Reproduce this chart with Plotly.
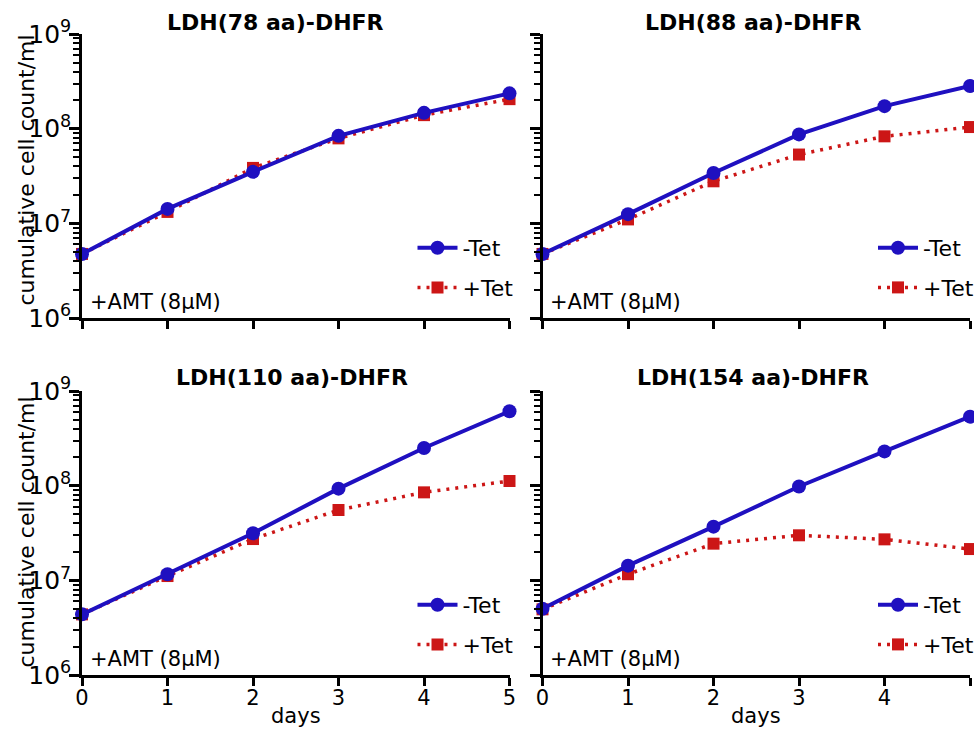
import plotly.graph_objects as go

days = [0, 1, 2, 3, 4, 5]
panel_titles = ["LDH(78 aa)-DHFR", "LDH(88 aa)-DHFR", "LDH(110 aa)-DHFR", "LDH(154 aa)-DHFR"]
series_names = ["-Tet", "+Tet"]
condition_label = "+AMT (8μM)"
x_title = "days"
y_title = "cumulative cell count/ml"

minus_tet_78 = [4.75e6, 1.42e7, 3.5e7, 8.4e7, 1.47e8, 2.36e8]
plus_tet_78 = [4.75e6, 1.32e7, 3.85e7, 7.9e7, 1.39e8, 2.05e8]
minus_tet_88 = [4.75e6, 1.25e7, 3.4e7, 8.7e7, 1.73e8, 2.82e8]
plus_tet_88 = [4.75e6, 1.1e7, 2.78e7, 5.33e7, 8.3e7, 1.04e8]
minus_tet_110 = [4.37e6, 1.16e7, 3.14e7, 9.3e7, 2.5e8, 6.1e8]
plus_tet_110 = [4.37e6, 1.11e7, 2.73e7, 5.53e7, 8.5e7, 1.12e8]
minus_tet_154 = [5.0e6, 1.43e7, 3.69e7, 9.8e7, 2.3e8, 5.36e8]
plus_tet_154 = [4.94e6, 1.16e7, 2.44e7, 2.99e7, 2.71e7, 2.14e7]

minus_series = [minus_tet_78, minus_tet_88, minus_tet_110, minus_tet_154]
plus_series = [plus_tet_78, plus_tet_88, plus_tet_110, plus_tet_154]

BLUE = "#1f10c0"
RED = "#cc1616"
FONT = "DejaVu Sans"
W, H = 974, 731


def px_x(p):
    return p / W


def px_y(p):
    return 1 - p / H


# panel geometry in page pixels: (x0, x1, ytop, ybottom)
panels = [
    (82, 509.5, 34, 318),
    (542.5, 970, 34, 318),
    (82, 509.5, 391, 675),
    (542.5, 970, 391, 675),
]
title_x_px = [275, 753, 292, 753]

fig = go.Figure()
layout = dict(
    width=W, height=H, margin=dict(l=0, r=0, t=0, b=0, autoexpand=False),
    paper_bgcolor="white", plot_bgcolor="white",
    font=dict(family=FONT, size=21, color="black"),
    showlegend=True,
)
annotations = []

for i in range(4):
    n = i + 1
    sx = "" if n == 1 else str(n)
    xa, ya = "x" + sx, "y" + sx
    lg = "legend" + sx
    x0, x1, yt, yb = panels[i]
    dom_x = [px_x(x0), px_x(x1)]
    dom_y = [px_y(yb), px_y(yt)]
    left = i in (0, 2)
    bottom = i in (2, 3)

    fig.add_trace(go.Scatter(
        x=days, y=plus_series[i], name=series_names[1], mode="lines+markers",
        xaxis=xa, yaxis=ya, legend=lg, legendrank=2, legendgroup="p" + str(n),
        line=dict(color=RED, width=3.5, dash="3px,6px"),
        marker=dict(symbol="square", size=12, color=RED),
        cliponaxis=False,
    ))
    fig.add_trace(go.Scatter(
        x=days, y=minus_series[i], name=series_names[0], mode="lines+markers",
        xaxis=xa, yaxis=ya, legend=lg, legendrank=1, legendgroup="m" + str(n),
        line=dict(color=BLUE, width=4),
        marker=dict(symbol="circle", size=14, color=BLUE),
        cliponaxis=False,
    ))

    layout["xaxis" + sx] = dict(
        domain=dom_x, anchor=ya, range=[0, 5], tick0=0, dtick=1,
        showline=True, linecolor="black", linewidth=2.5,
        ticks="outside", ticklen=8, tickwidth=2.5, tickcolor="black",
        showgrid=False, zeroline=False, showticklabels=bottom,
        tickfont=dict(size=21), ticklabelstandoff=-6,
        automargin=False,
    )
    layout["yaxis" + sx] = dict(
        domain=dom_y, anchor=xa, type="log", range=[6, 9], dtick=1,
        exponentformat="power",
        showline=True, linecolor="black", linewidth=2.5,
        ticks="outside", ticklen=10, tickwidth=2.5, tickcolor="black",
        minor=dict(ticks="outside", ticklen=6, tickwidth=2, tickcolor="black", dtick="D1", showgrid=False),
        showgrid=False, zeroline=False, showticklabels=left,
        tickfont=dict(size=20), ticklabelstandoff=-6,
        automargin=False,
    )
    leg_y_px = 268 if not bottom else 625
    layout[lg] = dict(
        x=px_x(x1 + 9), xanchor="right", y=px_y(leg_y_px), yanchor="middle",
        bgcolor="rgba(0,0,0,0)", font=dict(size=22),
        traceorder="grouped", tracegroupgap=8, itemwidth=40,
    )
    annotations.append(dict(
        text="<b>" + panel_titles[i] + "</b>", x=px_x(title_x_px[i]), xref="paper",
        y=px_y(22 if not bottom else 377), yref="paper",
        xanchor="center", yanchor="middle", showarrow=False,
        font=dict(size=22, family=FONT),
    ))
    annotations.append(dict(
        text=condition_label, xref=xa + " domain", yref=ya + " domain",
        x=0.014, y=0.055, xanchor="left", yanchor="middle", showarrow=False,
        font=dict(size=21, family=FONT),
    ))
    if left:
        annotations.append(dict(
            text=y_title, textangle=-90, xref="paper", yref="paper",
            x=px_x(26), y=px_y(170.5 if not bottom else 532.5),
            xanchor="center", yanchor="middle", showarrow=False,
            font=dict(size=22, family=FONT),
        ))
    if bottom:
        annotations.append(dict(
            text=x_title, xref=xa + " domain", yref="paper",
            x=0.5, y=px_y(716), xanchor="center", yanchor="middle",
            showarrow=False, font=dict(size=21, family=FONT),
        ))

layout["annotations"] = annotations
fig.update_layout(**layout)
fig.write_html(
    "out.html",
    config={"displayModeBar": False, "responsive": False},
    post_script=(
        "document.body.style.margin='0';"
        "document.body.style.overflow='hidden';"
        "document.documentElement.style.overflow='hidden';"
    ),
)
